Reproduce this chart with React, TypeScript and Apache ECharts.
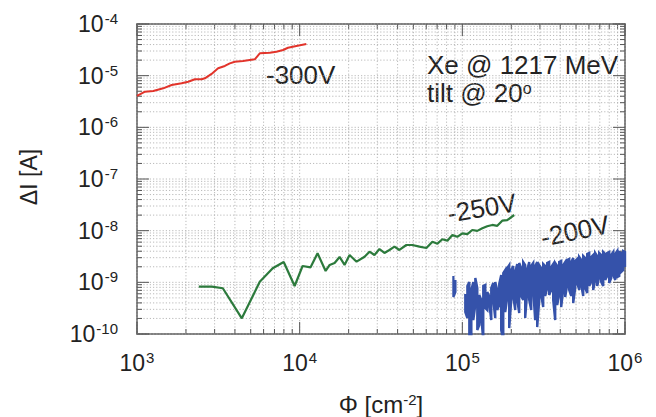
import { useEffect, useRef } from "react";
import * as echarts from "echarts";

// Axis ranges (log scales)
const X_MIN = 1e3;
const X_MAX = 1e6;
const Y_MIN = 1e-10;
const Y_MAX = 1e-4;

// -300 V run
const fluence300 = [1000, 1120, 1259, 1449, 1633, 1880, 2064, 2269, 2494, 2614, 2873, 3152, 3467, 3722, 3993, 4487, 5297, 5686, 6549, 7194, 7907, 8476, 9546, 10990];
const current300 = [4.05e-6, 4.9e-6, 5.05e-6, 5.69e-6, 6.59e-6, 7.11e-6, 7.64e-6, 8.51e-6, 8.51e-6, 8.89e-6, 1.08e-5, 1.39e-5, 1.54e-5, 1.73e-5, 1.86e-5, 1.92e-5, 2.07e-5, 2.71e-5, 2.78e-5, 2.91e-5, 3.14e-5, 3.47e-5, 3.75e-5, 4.1e-5];

// -250 V run
const fluence250 = [2399, 2883, 3370, 4409, 5686, 6829, 7978, 9313, 10420, 11670, 12880, 14440, 15290, 16400, 17590, 18880, 20260, 22380, 25060, 26870, 28830, 30940, 33190, 35620, 38270, 41020, 45290, 49320, 54450, 60120, 65460, 70300, 75340, 80900, 86860, 93100, 100000, 107400, 115100, 123600, 132700, 142300, 152800, 164000, 175900, 188800, 208300];
const current250 = [8.24e-10, 8.24e-10, 7.67e-10, 2.01e-10, 1.03e-9, 1.87e-9, 2.48e-9, 8.5e-10, 2.07e-9, 1.95e-9, 3.65e-9, 1.66e-9, 2.17e-9, 2.37e-9, 3.1e-9, 2.17e-9, 3.38e-9, 2.51e-9, 3.13e-9, 3.92e-9, 3.38e-9, 4.42e-9, 3.7e-9, 4.23e-9, 4.9e-9, 4.23e-9, 5.28e-9, 5.28e-9, 4.9e-9, 4.62e-9, 6.12e-9, 5.6e-9, 6.81e-9, 6.4e-9, 8.24e-9, 7.6e-9, 8.89e-9, 8.6e-9, 1.03e-8, 9.9e-9, 1.11e-8, 1.22e-8, 1.29e-8, 1.24e-8, 1.56e-8, 1.6e-8, 2.01e-8];

// -200 V run: short first burst, then the noisy record (upper / lower excursions)
const fluence200Start = [8.81e4, 9.07e4];
const high200Start = [1.327e-9, 1.11e-9];
const low200Start = [5.2e-10, 6.5e-10];

const fluence200 = [
  1.043e5, 1.074e5, 1.104e5, 1.136e5, 1.168e5, 1.202e5, 1.236e5, 1.271e5, 1.308e5, 1.345e5,
  1.384e5, 1.423e5, 1.464e5, 1.506e5, 1.549e5, 1.593e5, 1.639e5, 1.686e5, 1.734e5, 1.785e5,
  1.835e5, 1.888e5, 1.942e5, 1.998e5, 2.055e5, 2.114e5, 2.175e5, 2.237e5, 2.301e5, 2.367e5,
  2.435e5, 2.505e5, 2.577e5, 2.651e5, 2.727e5, 2.805e5, 2.886e5, 2.969e5, 3.054e5, 3.141e5,
  3.232e5, 3.324e5, 3.42e5, 3.518e5, 3.619e5, 3.723e5, 3.83e5, 3.94e5, 4.053e5, 4.17e5,
  4.289e5, 4.413e5, 4.54e5, 4.67e5, 4.804e5, 4.942e5, 5.084e5, 5.23e5, 5.38e5, 5.535e5,
  5.694e5, 5.857e5, 6.026e5, 6.199e5, 6.377e5, 6.56e5, 6.749e5, 6.943e5, 7.142e5, 7.347e5,
  7.558e5, 7.776e5, 7.999e5, 8.229e5, 8.466e5, 8.709e5, 8.959e5, 9.217e5, 9.482e5, 9.754e5, 1.0e6,
];
const high200 = [
  5.95e-10, 8.49e-10, 1.015e-9, 7.11e-10, 1.015e-9, 1.214e-9, 7.77e-10, 5.69e-10, 4.55e-10, 8.49e-10,
  8.88e-10, 6.5e-10, 5.44e-10, 7.77e-10, 9.71e-10, 1.015e-9, 7.11e-10, 9.29e-10, 1.387e-9, 1.517e-9,
  1.733e-9, 1.895e-9, 2.166e-9, 1.733e-9, 2.072e-9, 1.586e-9, 2.265e-9, 2.368e-9, 1.895e-9, 2.476e-9,
  2.166e-9, 1.733e-9, 2.476e-9, 2.072e-9, 2.368e-9, 2.072e-9, 2.476e-9, 2.166e-9, 1.895e-9, 2.265e-9,
  2.072e-9, 2.368e-9, 2.476e-9, 1.981e-9, 2.265e-9, 2.368e-9, 2.072e-9, 2.476e-9, 2.589e-9, 2.166e-9,
  2.476e-9, 2.707e-9, 2.83e-9, 2.476e-9, 2.959e-9, 2.589e-9, 2.83e-9, 3.094e-9, 2.707e-9, 3.235e-9,
  2.959e-9, 3.537e-9, 3.698e-9, 3.094e-9, 3.383e-9, 3.698e-9, 3.235e-9, 3.698e-9, 3.383e-9, 3.867e-9,
  3.537e-9, 3.698e-9, 3.867e-9, 3.383e-9, 3.867e-9, 3.537e-9, 4.043e-9, 3.867e-9, 3.698e-9, 4.043e-9, 3.867e-9,
];
const low200 = [
  2.67e-10, 2.04e-10, 7.6e-11, 7.6e-11, 1.86e-10, 3.64e-10, 1.19e-10, 1.49e-10, 2.04e-10, 7.6e-11,
  3.19e-10, 2.91e-10, 3.81e-10, 1.86e-10, 4.55e-10, 2.04e-10, 2.91e-10, 3.64e-10, 1.19e-10, 7.6e-11,
  2.67e-10, 4.98e-10, 1.3e-10, 4.55e-10, 5.44e-10, 2.91e-10, 4.55e-10, 2.55e-10, 5.44e-10, 4.55e-10,
  2.04e-10, 6.5e-10, 4.55e-10, 2.91e-10, 7.11e-10, 1.86e-10, 1.36e-10, 4.55e-10, 5.69e-10, 3.33e-10,
  5.44e-10, 7.77e-10, 5.69e-10, 7.11e-10, 4.55e-10, 1.86e-10, 3.64e-10, 5.69e-10, 3.33e-10, 7.11e-10,
  5.2e-10, 8.88e-10, 7.11e-10, 5.44e-10, 3.98e-10, 7.77e-10, 9.71e-10, 7.11e-10, 8.88e-10, 5.44e-10,
  7.77e-10, 6.22e-10, 8.49e-10, 1.015e-9, 7.11e-10, 1.11e-9, 8.49e-10, 1.269e-9, 1.015e-9, 8.49e-10,
  1.11e-9, 1.327e-9, 9.71e-10, 1.214e-9, 1.387e-9, 1.11e-9, 1.269e-9, 1.327e-9, 1.586e-9, 1.733e-9, 1.981e-9,
];

// Decade and sub-decade positions for ticks and the dotted grid
const xDecades = [1e3, 1e4, 1e5, 1e6];
const yDecades = [1e-10, 1e-9, 1e-8, 1e-7, 1e-6, 1e-5, 1e-4];
const subSteps = [2, 3, 4, 5, 6, 7, 8, 9];

const RED = "#e2342b";
const GREEN = "#2c7a3c";
const BLUE = "#3552aa";
const FRAME = "#555555";
const FONT = "Liberation Sans, Arial, Helvetica, sans-serif";

function decadeTicks(decades: number[]) {
  const out: [number, number][] = [];
  decades.forEach((d, i) => {
    out.push([d, 1]);
    if (i < decades.length - 1) subSteps.forEach((s) => out.push([d * s, 0]));
  });
  return out;
}

function zigzag(xs: number[], hi: number[], lo: number[]) {
  const pts: [number, number][] = [];
  xs.forEach((x, i) => {
    if (i % 2 === 0) {
      pts.push([x, hi[i]], [x, lo[i]]);
    } else {
      pts.push([x, lo[i]], [x, hi[i]]);
    }
  });
  return pts;
}

const supLabel = (v: number) => {
  const e = Math.round(Math.log10(v));
  return `{b|10}{e|${e}}`;
};

export default function App() {
  const ref = useRef<HTMLDivElement>(null);

  useEffect(() => {
    if (!ref.current) return;
    const chart = echarts.init(ref.current, null, { renderer: "svg" });

    const xTickData = decadeTicks(xDecades).map(([v, m]) => [v, 1e-7, m]);
    const yTickData = decadeTicks(yDecades).map(([v, m]) => [3e4, v, m]);

    const gridStyle = { stroke: "#a8a8a8", lineWidth: 0.8, lineDash: [1.2, 2] };
    const tickStyle = { stroke: FRAME, lineWidth: 1 };

    const labelRich = {
      b: { fontSize: 23, fontFamily: FONT, color: "#222", lineHeight: 26 },
      e: { fontSize: 15, fontFamily: FONT, color: "#222", verticalAlign: "top", lineHeight: 16, padding: [0, 0, 0, 1] },
    };

    const logAxisBase = {
      type: "log" as const,
      logBase: 10,
      axisLine: { show: true, lineStyle: { color: FRAME, width: 1.5 } },
      axisTick: { show: false },
      splitLine: { show: false },
      minorTick: { show: false },
      minorSplitLine: { show: false },
    };

    chart.setOption({
      animation: false,
      backgroundColor: "#ffffff",
      grid: { left: 137, top: 24, right: 31, bottom: 83, containLabel: false },
      xAxis: [
        {
          ...logAxisBase,
          min: X_MIN,
          max: X_MAX,
          splitNumber: 3,
          position: "bottom",
          axisLabel: {
            formatter: supLabel,
            rich: labelRich,
            margin: 16,
            showMinLabel: true,
            showMaxLabel: true,
          },
        },
        {
          ...logAxisBase,
          min: X_MIN,
          max: X_MAX,
          splitNumber: 3,
          position: "top",
          axisLabel: { show: false },
        },
      ],
      yAxis: [
        {
          ...logAxisBase,
          min: Y_MIN,
          max: Y_MAX,
          splitNumber: 6,
          position: "left",
          axisLabel: {
            formatter: supLabel,
            rich: labelRich,
            margin: 19,
            showMinLabel: true,
            showMaxLabel: true,
          },
        },
        {
          ...logAxisBase,
          min: Y_MIN,
          max: Y_MAX,
          splitNumber: 6,
          position: "right",
          axisLabel: { show: false },
        },
      ],
      series: [
        {
          // vertical dotted grid plus bottom/top ticks
          type: "custom",
          silent: true,
          z: 1,
          data: xTickData,
          renderItem: (_p: any, api: any) => {
            const v = api.value(0);
            const major = api.value(2) === 1;
            const b = api.coord([v, Y_MIN]);
            const t = api.coord([v, Y_MAX]);
            const len = major ? 12 : 5;
            return {
              type: "group",
              children: [
                { type: "line", shape: { x1: b[0], y1: b[1], x2: t[0], y2: t[1] }, style: gridStyle },
                { type: "line", shape: { x1: b[0], y1: b[1], x2: b[0], y2: b[1] - len }, style: tickStyle },
                { type: "line", shape: { x1: t[0], y1: t[1], x2: t[0], y2: t[1] + len }, style: tickStyle },
              ],
            };
          },
        },
        {
          // horizontal dotted grid plus left/right ticks
          type: "custom",
          silent: true,
          z: 1,
          data: yTickData,
          renderItem: (_p: any, api: any) => {
            const v = api.value(1);
            const major = api.value(2) === 1;
            const l = api.coord([X_MIN, v]);
            const r = api.coord([X_MAX, v]);
            const len = major ? 12 : 5;
            return {
              type: "group",
              children: [
                { type: "line", shape: { x1: l[0], y1: l[1], x2: r[0], y2: r[1] }, style: gridStyle },
                { type: "line", shape: { x1: l[0], y1: l[1], x2: l[0] + len, y2: l[1] }, style: tickStyle },
                { type: "line", shape: { x1: r[0], y1: r[1], x2: r[0] - len, y2: r[1] }, style: tickStyle },
              ],
            };
          },
        },
        {
          name: "-300V",
          type: "line",
          z: 3,
          showSymbol: false,
          data: fluence300.map((x, i) => [x, current300[i]]),
          lineStyle: { color: RED, width: 2 },
        },
        {
          name: "-250V",
          type: "line",
          z: 3,
          showSymbol: false,
          data: fluence250.map((x, i) => [x, current250[i]]),
          lineStyle: { color: GREEN, width: 2.2 },
        },
        {
          name: "-200V start",
          type: "line",
          z: 3,
          showSymbol: false,
          clip: true,
          data: zigzag(fluence200Start, high200Start, low200Start),
          lineStyle: { color: BLUE, width: 2.2 },
        },
        {
          name: "-200V",
          type: "line",
          z: 3,
          showSymbol: false,
          clip: true,
          data: zigzag(fluence200, high200, low200),
          lineStyle: { color: BLUE, width: 2.4, join: "miter" },
        },
      ],
      graphic: [
        {
          type: "text",
          x: 29,
          y: 177,
          rotation: Math.PI / 2,
          style: { text: "ΔI [A]", font: `23px ${FONT}`, fill: "#222", align: "center", verticalAlign: "middle" },
        },
        {
          type: "text",
          x: 381,
          y: 404,
          style: {
            text: "Φ [cm{s|-2}]",
            font: `24px ${FONT}`,
            fill: "#222",
            align: "center",
            verticalAlign: "middle",
            rich: {
              s: { font: `15px ${FONT}`, fill: "#222", verticalAlign: "top", lineHeight: 15 },
            },
          },
        },
        {
          type: "text",
          x: 266,
          y: 75,
          style: { text: "-300V", font: `26px ${FONT}`, fill: "#222", align: "left", verticalAlign: "middle" },
        },
        {
          type: "text",
          x: 427,
          y: 65,
          style: { text: "Xe @ 1217 MeV", font: `26px ${FONT}`, fill: "#222", align: "left", verticalAlign: "middle" },
        },
        {
          type: "text",
          x: 427,
          y: 93,
          style: {
            text: "tilt @ 20{s|o}",
            font: `26px ${FONT}`,
            fill: "#222",
            align: "left",
            verticalAlign: "middle",
            rich: {
              s: { font: `16px ${FONT}`, fill: "#222", verticalAlign: "top", lineHeight: 16 },
            },
          },
        },
        {
          type: "text",
          x: 482,
          y: 208,
          rotation: 0.17,
          style: { text: "-250V", font: `26px ${FONT}`, fill: "#222", align: "center", verticalAlign: "middle" },
        },
        {
          type: "text",
          x: 575,
          y: 231,
          rotation: 0.2,
          style: { text: "-200V", font: `26px ${FONT}`, fill: "#222", align: "center", verticalAlign: "middle" },
        },
      ],
    });

    return () => chart.dispose();
  }, []);

  return (
    <div
      ref={ref}
      style={{ position: "fixed", left: 0, top: 0, width: 656, height: 417 }}
    />
  );
}
